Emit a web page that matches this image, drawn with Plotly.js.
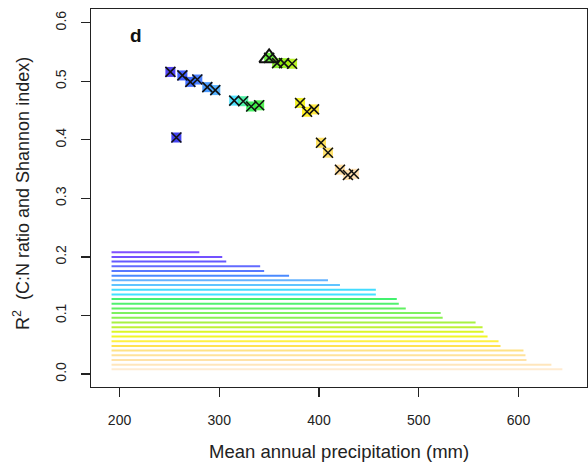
<!DOCTYPE html>
<html>
<head>
<meta charset="utf-8">
<script src="https://cdn.plot.ly/plotly-3.0.1.min.js"></script>
<style>html,body{margin:0;padding:0;background:#fff;}#chart{width:588px;height:469px;}</style>
</head>
<body>
<div id="chart"></div>
<script>
// Horizontal range lines (precipitation spans)
const lineStart = 192;
const lineY = [0.208, 0.200, 0.192, 0.184, 0.176, 0.168, 0.160, 0.152, 0.144, 0.136, 0.128, 0.120, 0.112,
               0.104, 0.096, 0.088, 0.080, 0.072, 0.064, 0.056, 0.048, 0.040, 0.032, 0.024, 0.016, 0.008];
const lineEnd = [280, 303, 307, 341, 345, 370, 409, 421, 457, 457, 478, 480, 487,
                 522, 524, 557, 564, 565, 569, 580, 582, 605, 607, 608, 633, 644];
const lineColors = ["#6a33ff", "#5a33ff", "#4a3cff", "#4650ff", "#3a62ff", "#2a76ff", "#4aa6ff", "#44baff", "#22d6ff",
                    "#22dcff", "#22ee55", "#33ee55", "#44ee44", "#66ee44", "#77ee33", "#99ee22", "#b4ee11",
                    "#d6f500", "#eef500", "#ffee22", "#ffdd33", "#ffdd70", "#ffdd88", "#ffdd99", "#ffe2b0", "#ffe8c8"];

// Points: precipitation vs R²
const ptX = [251, 257, 263, 271, 278, 288, 296, 315, 324, 332, 340, 350, 358, 365, 373,
             381, 388, 395, 402, 409, 421, 429, 435];
const ptY = [0.516, 0.404, 0.510, 0.499, 0.503, 0.490, 0.485, 0.467, 0.466, 0.457, 0.459, 0.540, 0.531, 0.531, 0.530,
             0.463, 0.448, 0.452, 0.395, 0.378, 0.349, 0.340, 0.342];
const ptColors = ["#3322ee", "#2222ee", "#2244ff", "#2255ff", "#2a6aff", "#2a8aff", "#3aa6ff", "#33ddff", "#33ee99",
                  "#22ee44", "#33ee33", "#55ee22", "#77ee11", "#88ee00", "#aaee00",
                  "#eeee00", "#ffee00", "#ffe622", "#ffdd44", "#ffdd55", "#ffd890", "#ffdca0", "#ffdca8"];
// Maximum point (triangle)
const maxX = [350];
const maxY = [0.540];

const xTicks = [200, 300, 400, 500, 600];
const yTicks = [0.0, 0.1, 0.2, 0.3, 0.4, 0.5, 0.6];
const yTickText = ["0.0", "0.1", "0.2", "0.3", "0.4", "0.5", "0.6"];

const traces = [];
for (let i = 0; i < lineY.length; i++) {
  traces.push({
    type: "scatter", mode: "lines",
    x: [lineStart, lineEnd[i]], y: [lineY[i], lineY[i]],
    line: {color: lineColors[i], width: 2},
    opacity: 0.85, hoverinfo: "skip", showlegend: false
  });
}
traces.push({
  type: "scatter", mode: "markers", x: ptX, y: ptY,
  marker: {symbol: "square", size: 10, color: ptColors, opacity: 0.85, line: {width: 0}},
  showlegend: false
});
traces.push({
  type: "scatter", mode: "markers", x: ptX, y: ptY,
  marker: {symbol: "x-thin-open", size: 10, color: "#111", line: {color: "#111", width: 1.6}},
  showlegend: false
});
traces.push({
  type: "scatter", mode: "markers", x: maxX, y: maxY,
  marker: {symbol: "triangle-up-open", size: 17, color: "#111", line: {color: "#111", width: 2}},
  showlegend: false
});

const font = "Liberation Sans, Arial, sans-serif";
const layout = {
  width: 588, height: 469,
  margin: {l: 91, r: 1, t: 9, b: 82, pad: 0},
  paper_bgcolor: "#fff", plot_bgcolor: "#fff",
  font: {family: font, color: "#222"},
  xaxis: {
    range: [171.4, 668.7], tickmode: "array", tickvals: xTicks, ticktext: xTicks.map(String),
    showgrid: false, zeroline: false, showline: true, mirror: true, linecolor: "#222", linewidth: 1.3,
    ticks: "outside", ticklen: 9, tickwidth: 1.3, tickcolor: "#222",
    tickfont: {size: 14, color: "#222", family: font}, ticklabelstandoff: 11
  },
  yaxis: {
    range: [-0.0222, 0.6235], tickmode: "array", tickvals: yTicks, ticktext: yTickText,
    showgrid: false, zeroline: false, showline: true, mirror: true, linecolor: "#222", linewidth: 1.3,
    ticks: "outside", ticklen: 9, tickwidth: 1.3, tickcolor: "#222", tickangle: -90,
    tickfont: {size: 14, color: "#222", family: font}, ticklabelstandoff: 9
  },
  annotations: [
    {text: "<b>d</b>", xref: "paper", yref: "paper", x: (136 - 91) / 496, y: (387 - 36) / 378,
     xanchor: "center", yanchor: "middle", showarrow: false, font: {size: 19, color: "#111", family: font}},
    {text: "Mean annual precipitation (mm)", xref: "paper", yref: "paper", x: (339 - 91) / 496, y: (387 - 452) / 378,
     xanchor: "center", yanchor: "middle", showarrow: false, font: {size: 18.5, color: "#222", family: font}},
    {text: "R<sup>2</sup>  (C:N ratio and Shannon index)", xref: "paper", yref: "paper", x: (21 - 91) / 496, y: (387 - 194) / 378,
     xanchor: "center", yanchor: "middle", textangle: -90, showarrow: false, font: {size: 18, color: "#222", family: font}}
  ]
};
Plotly.newPlot("chart", traces, layout, {displayModeBar: false, staticPlot: true});
</script>
</body>
</html>
